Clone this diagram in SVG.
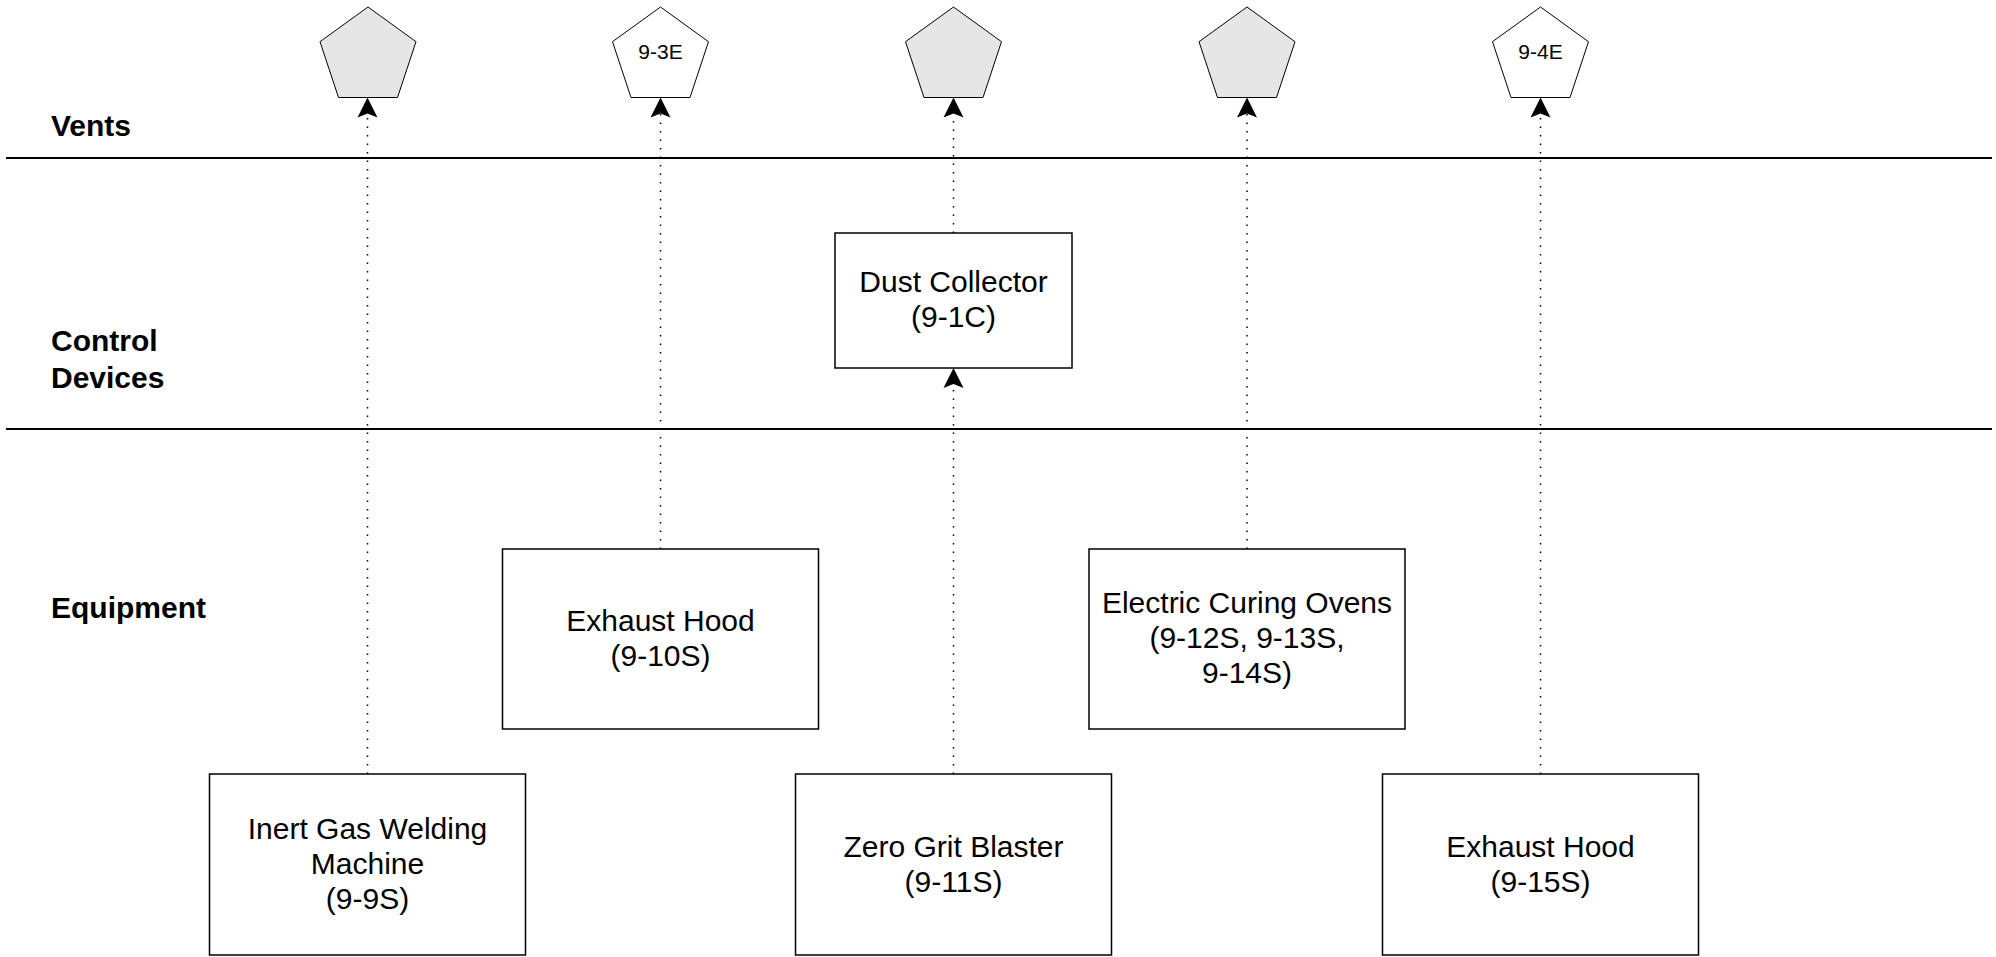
<svg xmlns="http://www.w3.org/2000/svg" width="1996" height="957" viewBox="0 0 1996 957">
<style>
.bg{fill:#ffffff}
.lane{stroke:#000;stroke-width:2;fill:none}
.lbl{font-family:"Liberation Sans",Arial,sans-serif;font-weight:bold;font-size:30px;fill:#000}
.box{fill:#fff;stroke:#000;stroke-width:1.5}
.txt{font-family:"Liberation Sans",Arial,sans-serif;font-size:30px;fill:#000;text-anchor:middle}
.vent{stroke:#000;stroke-width:1}
.gray{fill:#e6e6e6}
.white{fill:#fff}
.vtxt{font-family:"Liberation Sans",Arial,sans-serif;font-size:21px;fill:#000;text-anchor:middle}
.conn{stroke:#000;stroke-width:1.5;stroke-dasharray:1.5 7;fill:none}
</style>
<defs>
<path id="arr" d="M0,0 L10,20 L0,16 L-10,20 Z" fill="#000"/>
</defs>
<rect class="bg" x="0" y="0" width="1996" height="957"/>
<g id="lanes">
<line class="lane" x1="6" y1="158" x2="1992" y2="158"/>
<line class="lane" x1="6" y1="429" x2="1992" y2="429"/>
<text class="lbl" x="51" y="136">Vents</text>
<text class="lbl" x="51" y="351">Control</text>
<text class="lbl" x="51" y="388">Devices</text>
<text class="lbl" x="51" y="618">Equipment</text>
</g>
<g id="connectors">
<line class="conn" x1="367.5" y1="774" x2="367.5" y2="114"/>
<use href="#arr" x="367.5" y="97.5"/>
<line class="conn" x1="660.5" y1="549" x2="660.5" y2="114"/>
<use href="#arr" x="660.5" y="97.5"/>
<line class="conn" x1="953.5" y1="774" x2="953.5" y2="385"/>
<use href="#arr" x="953.5" y="368"/>
<line class="conn" x1="953.5" y1="233" x2="953.5" y2="114"/>
<use href="#arr" x="953.5" y="97.5"/>
<line class="conn" x1="1247" y1="549" x2="1247" y2="114"/>
<use href="#arr" x="1247" y="97.5"/>
<line class="conn" x1="1540.5" y1="774" x2="1540.5" y2="114"/>
<use href="#arr" x="1540.5" y="97.5"/>
</g>
<g id="vent1"><polygon class="vent gray" points="368,7 416,41.7 397.5,97.5 338.5,97.5 320,41.7"/></g>
<g id="vent-9-3E"><polygon class="vent white" points="660.5,7 708.5,41.7 690,97.5 631,97.5 612.5,41.7"/><text class="vtxt" x="660.5" y="59">9-3E</text></g>
<g id="vent3"><polygon class="vent gray" points="953.5,7 1001.5,41.7 983,97.5 924,97.5 905.5,41.7"/></g>
<g id="vent4"><polygon class="vent gray" points="1247,7 1295,41.7 1276.5,97.5 1217.5,97.5 1199,41.7"/></g>
<g id="vent-9-4E"><polygon class="vent white" points="1540.5,7 1588.5,41.7 1570,97.5 1511,97.5 1492.5,41.7"/><text class="vtxt" x="1540.5" y="59">9-4E</text></g>
<g id="dust-collector"><rect class="box" x="835" y="233" width="237" height="135"/><text class="txt" x="953.5" y="292">Dust Collector</text><text class="txt" x="953.5" y="327">(9-1C)</text></g>
<g id="exhaust-hood-10S"><rect class="box" x="502.5" y="549" width="316" height="180"/><text class="txt" x="660.5" y="631">Exhaust Hood</text><text class="txt" x="660.5" y="666">(9-10S)</text></g>
<g id="curing-ovens"><rect class="box" x="1089" y="549" width="316" height="180"/><text class="txt" x="1247" y="613">Electric Curing Ovens</text><text class="txt" x="1247" y="648">(9-12S, 9-13S,</text><text class="txt" x="1247" y="683">9-14S)</text></g>
<g id="inert-gas"><rect class="box" x="209.5" y="774" width="316" height="181"/><text class="txt" x="367.5" y="839">Inert Gas Welding</text><text class="txt" x="367.5" y="874">Machine</text><text class="txt" x="367.5" y="909">(9-9S)</text></g>
<g id="zero-grit"><rect class="box" x="795.5" y="774" width="316" height="181"/><text class="txt" x="953.5" y="857">Zero Grit Blaster</text><text class="txt" x="953.5" y="892">(9-11S)</text></g>
<g id="exhaust-hood-15S"><rect class="box" x="1382.5" y="774" width="316" height="181"/><text class="txt" x="1540.5" y="857">Exhaust Hood</text><text class="txt" x="1540.5" y="892">(9-15S)</text></g>
</svg>
